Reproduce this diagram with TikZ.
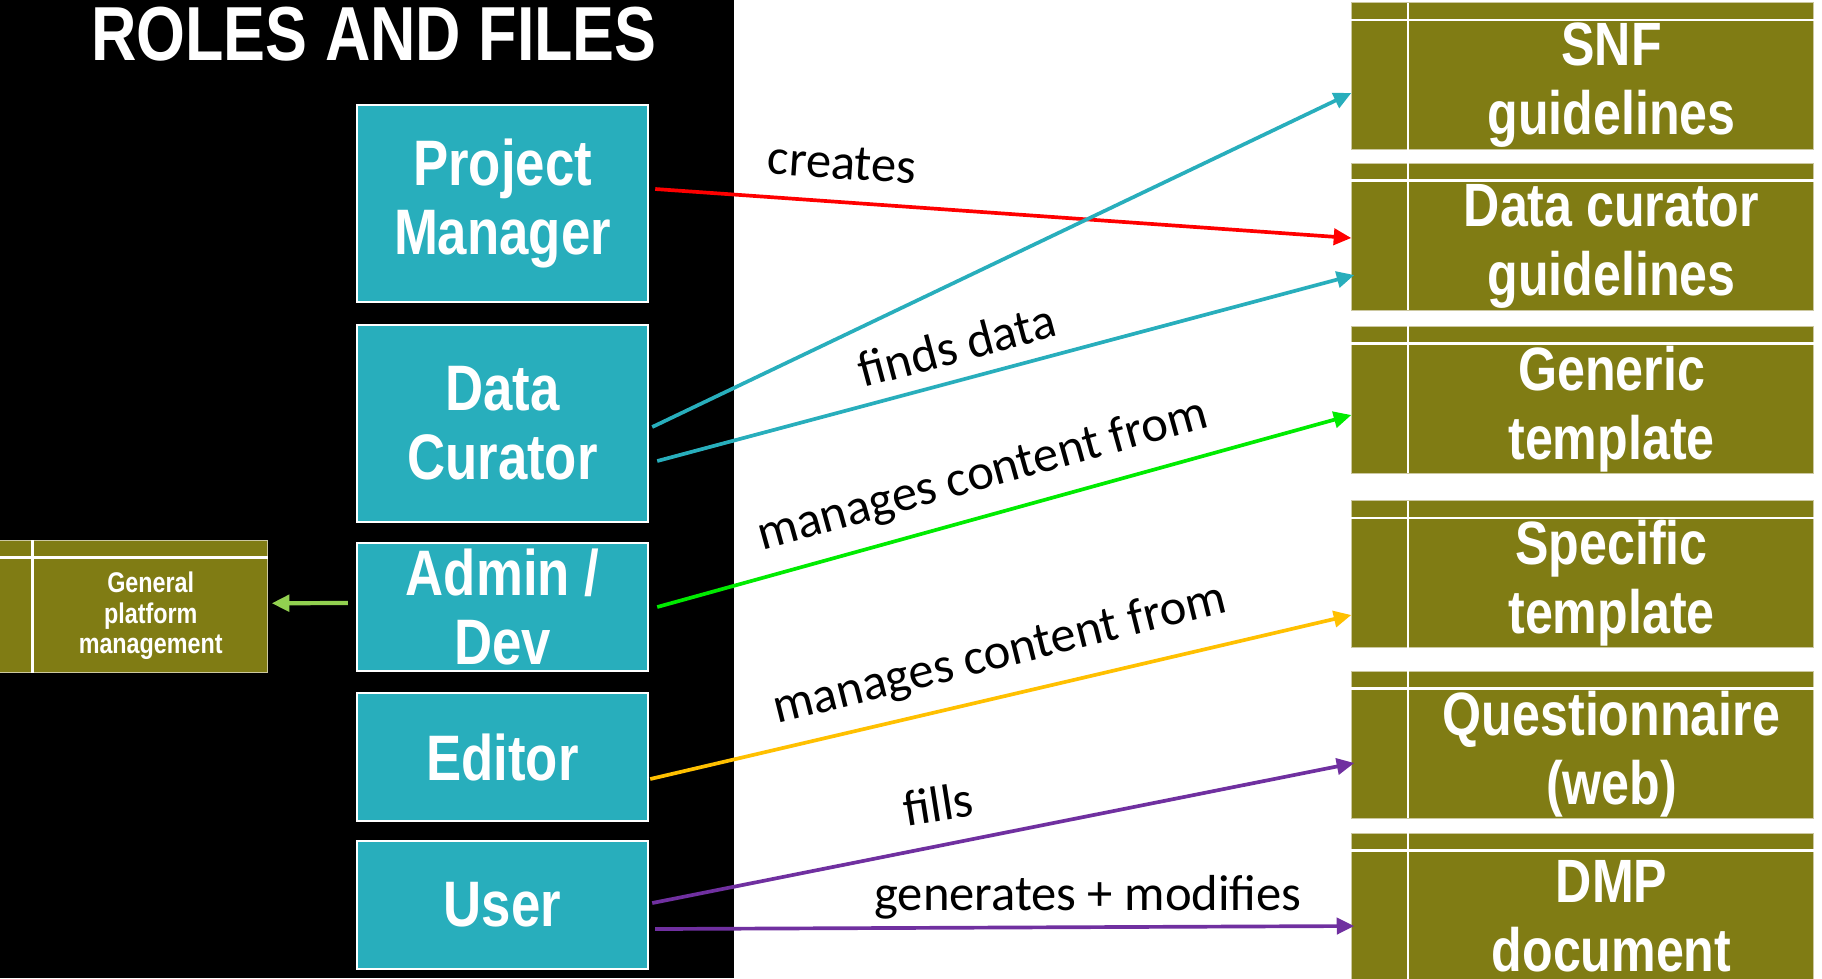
\documentclass[tikz,border=0pt]{standalone}
\usepackage{fontspec}
\usetikzlibrary{arrows.meta,backgrounds}
\newfontfamily\condfont{Liberation Sans}[FakeStretch=0.82]
\newfontfamily\labelfont{Carlito}

\definecolor{roleteal}{RGB}{40,174,188}
\definecolor{fileolive}{RGB}{128,124,20}
\definecolor{filerim}{RGB}{204,200,160}
\definecolor{linkgreen}{RGB}{0,235,0}
\definecolor{linkgold}{RGB}{255,192,0}
\definecolor{linkpurple}{RGB}{112,48,160}
\definecolor{leafgreen}{RGB}{146,208,80}

\begin{document}
\begin{tikzpicture}[
  role/.style={draw=white, line width=0.7pt, fill=roleteal, text=white, align=center,
    minimum width=2.91cm, inner sep=0pt, font=\condfont\bfseries\fontsize{18.3}{19.6}\selectfont},
  file/.style={fill=fileolive, text=white, align=center, minimum width=4.03cm,
    minimum height=1.27cm, inner sep=0pt, font=\condfont\bfseries\fontsize{17.4}{19.6}\selectfont},
  link/.style={line width=1.05pt, -{Triangle[length=5pt,width=4.6pt]}},
  verb/.style={font=\labelfont\fontsize{14.4}{17}\selectfont, inner sep=0pt},
]
  \useasboundingbox (0,0) rectangle (18.22,-9.78);
  \begin{scope}[on background layer]
    \fill[white] (0,0) rectangle (18.22,-9.78);
    \fill[black] (0,0) rectangle (7.34,-9.78);
  \end{scope}

  \node[font=\condfont\bfseries\fontsize{21.8}{25}\selectfont, text=white, inner sep=0pt]
    (title) at (3.74,-0.34) {ROLES AND FILES};

  % roles
  \node[role, minimum height=1.97cm] (pm) at (5.025,-2.035) {Project\\Manager};
  \node[role, minimum height=1.97cm] (dc) at (5.025,-4.235) {Data\\Curator};
  \node[role, minimum height=1.28cm] (adm) at (5.025,-6.07) {Admin /\\Dev};
  \node[role, minimum height=1.28cm] (ed) at (5.025,-7.57) {Editor};
  \node[role, minimum height=1.28cm] (usr) at (5.025,-9.05) {User};

  % files
  \node[file] (snf) at (16.115,-0.855) {SNF\\guidelines};
  \node[file] (dcg) at (16.115,-2.46) {Data curator\\guidelines};
  \node[file] (gen) at (16.115,-4.09) {Generic\\template};
  \node[file] (spc) at (16.115,-5.835) {Specific\\template};
  \node[file] (qst) at (16.115,-7.54) {Questionnaire\\(web)};
  \node[file] (dmp) at (16.115,-9.16) {DMP\\document};
  \node[file, minimum width=2.325cm, minimum height=1.125cm,
    font=\condfont\bfseries\fontsize{8.1}{8.8}\selectfont]
    (gpm) at (1.5075,-6.1575) {General\\platform\\management};

  % left column and top strip of every file box
  \begin{scope}[on background layer]
    \foreach \f/\w in {snf/5.55mm,dcg/5.55mm,gen/5.55mm,spc/5.55mm,qst/5.55mm,dmp/5.55mm,gpm/3.2mm}
      \filldraw[fill=fileolive, draw=filerim, line width=0.35pt]
        ([xshift=-\w-0.25mm]\f.south west) rectangle ([yshift=1.85mm]\f.north east);
  \end{scope}
  \foreach \f/\w in {snf/5.55mm,dcg/5.55mm,gen/5.55mm,spc/5.55mm,qst/5.55mm,dmp/5.55mm,gpm/3.2mm} {
    \draw[white, line width=0.7pt] ([xshift=-0.125mm]\f.south west) -- ([xshift=-0.125mm,yshift=1.85mm]\f.north west);
    \draw[white, line width=0.7pt] ([xshift=-\w-0.25mm,yshift=0.125mm]\f.north west) -- ([yshift=0.125mm]\f.north east);
  }

  % links
  \draw[link, red] ([xshift=0.6mm,yshift=1.45mm]pm.east) -- ([xshift=-5.8mm,yshift=0.8mm]dcg.west);
  \draw[link, roleteal] ([xshift=0.3mm,yshift=-0.35mm]dc.east) -- ([xshift=-5.8mm,yshift=-0.75mm]snf.west);
  \draw[link, roleteal] ([xshift=0.8mm,yshift=-3.75mm]dc.east) -- ([xshift=-5.5mm,yshift=-2.9mm]dcg.west);
  \draw[link, linkgreen] ([xshift=0.8mm]adm.east) -- ([xshift=-5.8mm,yshift=-0.6mm]gen.west);
  \draw[link, linkgold] ([xshift=0.1mm,yshift=-2.2mm]ed.east) -- ([xshift=-5.8mm,yshift=-3.15mm]spc.west);
  \draw[link, linkpurple] ([xshift=0.3mm,yshift=0.2mm]usr.east) -- ([xshift=-5.5mm,yshift=-0.9mm]qst.west);
  \draw[link, linkpurple] ([xshift=0.6mm,yshift=-2.4mm]usr.east) -- ([xshift=-5.5mm,yshift=-1.0mm]dmp.west);
  \draw[link, leafgreen, line width=1.2pt] ([xshift=-0.8mm,yshift=0.4mm]adm.west) -- ([xshift=0.4mm,yshift=1.25mm]gpm.east);

  \node[verb, rotate=-4] (l-creates) at (8.42,-1.63) {creates};
  \node[verb, rotate=15] (l-finds) at (9.57,-3.45) {finds data};
  \node[verb, rotate=15.5] (l-admin) at (9.83,-4.76) {manages content from};
  \node[verb, rotate=14] (l-editor) at (10.0,-6.55) {manages content from};
  \node[verb, rotate=9] (l-fills) at (9.38,-8.04) {fills};
  \node[verb] (l-gen) at (10.88,-8.97) {generates + modifies};
\end{tikzpicture}
\end{document}
